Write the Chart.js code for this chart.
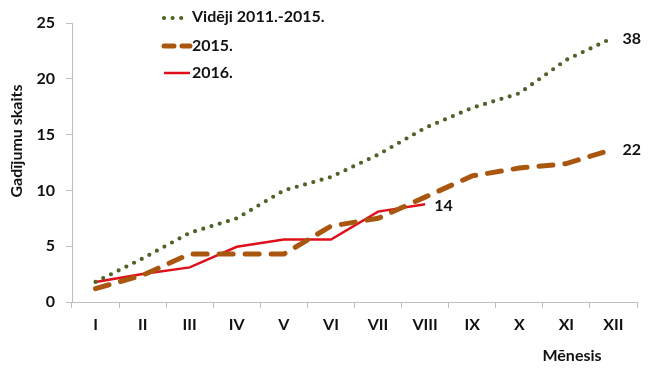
<!DOCTYPE html>
<html><head><meta charset="utf-8">
<script src="https://cdn.jsdelivr.net/npm/chart.js@4.4.1/dist/chart.umd.min.js"></script>
<style>html,body{margin:0;padding:0;background:#fff}#wrap{width:656px;height:372px}</style>
</head><body><div id="wrap"><canvas id="c" width="656" height="372"></canvas></div>
<script>
const months = ["I","II","III","IV","V","VI","VII","VIII","IX","X","XI","XII"];
const avg2011_2015 = [1.8,3.9,6.2,7.5,10.0,11.2,13.2,15.6,17.4,18.7,21.7,23.7];
const y2015 = [1.2,2.4,4.3,4.3,4.3,6.8,7.5,9.4,11.3,12.0,12.4,13.7];
const y2016 = [1.8,2.5,3.1,4.95,5.6,5.6,8.1,8.75];
const seriesNames = ["Vidēji 2011.-2015.","2015.","2016."];
const endLabels = ["38","22","14"];
const yTicks = [0,5,10,15,20,25];
const yTitle = "Gadījumu skaits";
const xTitle = "Mēnesis";

const FONT = "Lato";
const FS = 16;
const cGreen = "#4F6228", cBrown = "#A9560F", cRed = "#E0101A";
const styles = [
  {color:cGreen, width:4.2, dash:[0,8.6], cap:"round"},
  {color:cBrown, width:5, dash:[14,12], cap:"round"},
  {color:cRed, width:2.5, dash:[], cap:"butt"}
];

const overlay = {
  id:"overlay",
  afterDatasetsDraw(chart){
    const ctx = chart.ctx;
    ctx.save();
    ctx.font = "bold " + FS + "px " + FONT;
    ctx.fillStyle = "#111";
    ctx.textBaseline = "middle";
    ctx.textAlign = "left";
    chart.data.datasets.forEach((ds,i)=>{
      const meta = chart.getDatasetMeta(i);
      const pt = meta.data[meta.data.length-1];
      ctx.fillText(endLabels[i], pt.x + 9, pt.y + 1);
    });
    const lx = 163, lw = 27, rows=[17,46,73];
    styles.forEach((s,i)=>{
      ctx.save();
      ctx.strokeStyle = s.color; ctx.lineWidth = s.width; ctx.lineCap = s.cap;
      ctx.setLineDash(i===1?[10,8]:s.dash);
      ctx.beginPath();
      if(i===0){ctx.moveTo(lx+1,rows[i]+1);ctx.lineTo(lx+lw-5,rows[i]+1);}
      else {ctx.moveTo(lx+1,rows[i]);ctx.lineTo(lx+lw,rows[i]);}
      ctx.stroke();
      ctx.restore();
      ctx.fillText(seriesNames[i], lx+lw+2, rows[i]);
    });
    ctx.textAlign = "center";
    ctx.fillText(xTitle, 572, 356);
    ctx.translate(17, 141);
    ctx.rotate(-Math.PI/2);
    ctx.fillText(yTitle, 0, 0);
    ctx.restore();
  }
};

new Chart(document.getElementById("c"), {
  type:"line",
  data:{
    labels: months,
    datasets:[
      {label:seriesNames[0], data:avg2011_2015},
      {label:seriesNames[1], data:y2015},
      {label:seriesNames[2], data:y2016}
    ].map((d,i)=>Object.assign(d,{
      borderColor:styles[i].color, borderWidth:styles[i].width,
      borderDash:styles[i].dash, borderCapStyle:styles[i].cap,
      pointRadius:0, tension:0, fill:false
    }))
  },
  options:{
    responsive:false, animation:false,
    layout:{padding:{left:0,right:19,top:23,bottom:0}},
    plugins:{legend:{display:false}, tooltip:{enabled:false}},
    scales:{
      x:{
        offset:true,
        grid:{display:true, offset:true, drawOnChartArea:false, tickLength:6, color:"#BFBFBF", lineWidth:1},
        border:{display:true, color:"#BFBFBF", width:1},
        ticks:{font:{family:FONT, size:FS, weight:"bold"}, color:"#111", padding:7, maxRotation:0},
        afterFit(s){ s.height = 70; }
      },
      y:{
        min:0, max:25,
        afterBuildTicks(s){ s.ticks = yTicks.map(v=>({value:v})); },
        grid:{display:true, drawOnChartArea:false, tickLength:6, color:"#BFBFBF", lineWidth:1},
        border:{display:true, color:"#BFBFBF", width:1},
        ticks:{font:{family:FONT, size:FS, weight:"bold"}, color:"#111", padding:11},
        afterFit(s){ s.width = 72; }
      }
    }
  },
  plugins:[overlay]
});
</script></body></html>
